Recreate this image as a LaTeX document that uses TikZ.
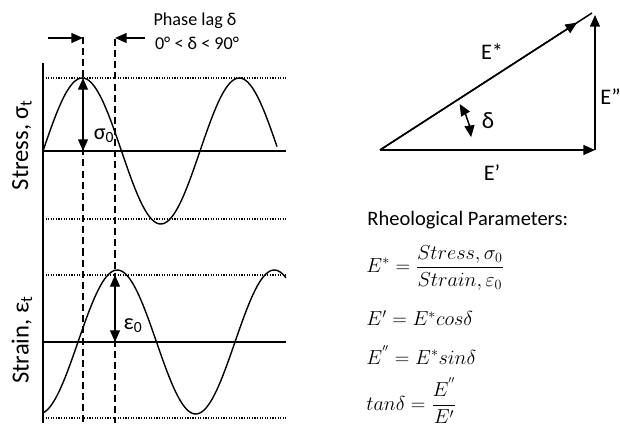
\documentclass[tikz,border=0pt]{standalone}
\usepackage{amsmath}
\usepackage{fontspec}
\setmainfont{Carlito}
\usetikzlibrary{arrows.meta, calc}

\tikzstyle{axis} = [line width=1.2pt]
\tikzstyle{guide} = [line width=0.9pt, dash pattern=on 1pt off 1.2pt]
\tikzstyle{lag} = [line width=1.2pt, dash pattern=on 6pt off 3.5pt]
\tikzstyle{wave} = [line width=1.2pt]
\tikzstyle{arrow1} = [line width=1.3pt, ->]
\tikzstyle{arrow2} = [line width=1.3pt, <->]
\tikzstyle{arrow3} = [lag, <->]
\tikzstyle{label} = [inner sep=1pt, font=\fontsize{17.5}{20}\selectfont]

\begin{document}
\begin{tikzpicture}[x=0.03cm, y=-0.03cm, >={Triangle[length=10pt, width=8.5pt]}]

    \useasboundingbox (0,0) rectangle (620,427);

    % time axis and guide lines
    \coordinate (axtop) at (43,63);
    \coordinate (axbot) at (43,423);
    \draw [axis] (axtop) -- (axbot);

    \coordinate (s1a) at (43,78);   \coordinate (s1b) at (286,78);
    \coordinate (s0a) at (43,151);  \coordinate (s0b) at (286,151);
    \coordinate (s2a) at (43,219);  \coordinate (s2b) at (286,219);
    \coordinate (e1a) at (43,275);  \coordinate (e1b) at (286,275);
    \coordinate (e0a) at (43,342);  \coordinate (e0b) at (286,342);
    \coordinate (e2a) at (43,418);  \coordinate (e2b) at (286,418);

    \draw [guide] (s1a) -- (s1b);
    \draw [guide] (s2a) -- (s2b);
    \draw [guide] (e1a) -- (e1b);
    \draw [guide] (e2a) -- (e2b);
    \draw [axis] (s0a) -- (s0b);
    \draw [axis] (e0a) -- (e0b);

    % stress and strain waves (period 157 px)
    \draw [wave] plot [domain=43:277, samples=120] (\x, {151-73*sin(2.293*(\x-43))});
    \draw [wave] plot [domain=43:286, samples=120] (\x, {342-72*sin(2.293*(\x-78))});

    % phase lag markers
    \coordinate (dashAtop) at (83,37);   \coordinate (dashAbot) at (83,423);
    \coordinate (dashBtop) at (115,39);  \coordinate (dashBbot) at (115,423);
    \draw [lag] (dashAtop) -- (dashAbot);
    \draw [lag] (dashBtop) -- (dashBbot);

    \coordinate (lagL) at (48,38);   \coordinate (lagA) at (83,38);
    \coordinate (lagR) at (145,38);  \coordinate (lagB) at (115,38);
    \draw [arrow1] (lagL) -- (lagA);
    \draw [arrow1] (lagR) -- (lagB);

    \node [label, font=\fontsize{15.5}{18}\selectfont] (phase) at (195,21) {Phase lag δ};
    \node [label, font=\fontsize{15.5}{18}\selectfont] (range) at (197,43) {0° < δ < 90°};

    % amplitudes
    \coordinate (sigtop) at (83,78);   \coordinate (sigbot) at (83,151);
    \coordinate (epstop) at (115,275); \coordinate (epsbot) at (115,342);
    \draw [arrow3] (sigbot) -- (sigtop);
    \draw [arrow3] (epsbot) -- (epstop);

    \node [label, font=\fontsize{19}{21}\selectfont] (sig0) at (104,136) {σ\textsubscript{0}};
    \node [label, font=\fontsize{19}{21}\selectfont] (eps0) at (133,326) {ε\textsubscript{0}};

    \node [label, rotate=90, font=\fontsize{21}{24}\selectfont] (stresslabel) at (22,145) {Stress, σ\textsubscript{t}};
    \node [label, rotate=90, font=\fontsize{21}{24}\selectfont] (strainlabel) at (22,340) {Strain, ε\textsubscript{t}};

    % modulus triangle
    \coordinate (origin) at (380,150);
    \coordinate (corner) at (595,150);
    \coordinate (vtip) at (595,15);
    \coordinate (htop) at (592,13);
    \draw [arrow1] (origin) -- (corner);
    \draw [arrow1] (corner) -- (vtip);
    \draw [line width=1.3pt] (origin) -- (htop);
    \draw [arrow1] (origin) -- ($(origin)!0.93!(htop)$);
    \draw [arrow2] (origin) ++(-30:92) arc [start angle=-30, end angle=-8, radius=92];

    \node [label, font=\fontsize{19}{22}\selectfont] (estar) at (492,52) {E*};
    \node [label, font=\fontsize{19}{22}\selectfont, anchor=west] (edbl) at (599,97) {E”};
    \node [label, font=\fontsize{19}{22}\selectfont] (eprime) at (492,173) {E’};
    \node [label, font=\fontsize{20}{22}\selectfont] (delta) at (488,121) {δ};

    % rheological parameters
    \node [label, anchor=west] (params) at (366,220) {Rheological Parameters:};
    \node [label, anchor=west] (eq1) at (365,268) {$\displaystyle E^* = \frac{Stress,\sigma_0}{Strain,\varepsilon_0}$};
    \node [label, anchor=west] (eq2) at (365,318) {$E' = E^*cos\delta$};
    \node [label, anchor=west] (eq3) at (365,355) {$E^{''} = E^*sin\delta$};
    \node [label, anchor=west] (eq4) at (365,401) {$\displaystyle tan\delta = \frac{E^{''}}{E'}$};

\end{tikzpicture}
\end{document}
